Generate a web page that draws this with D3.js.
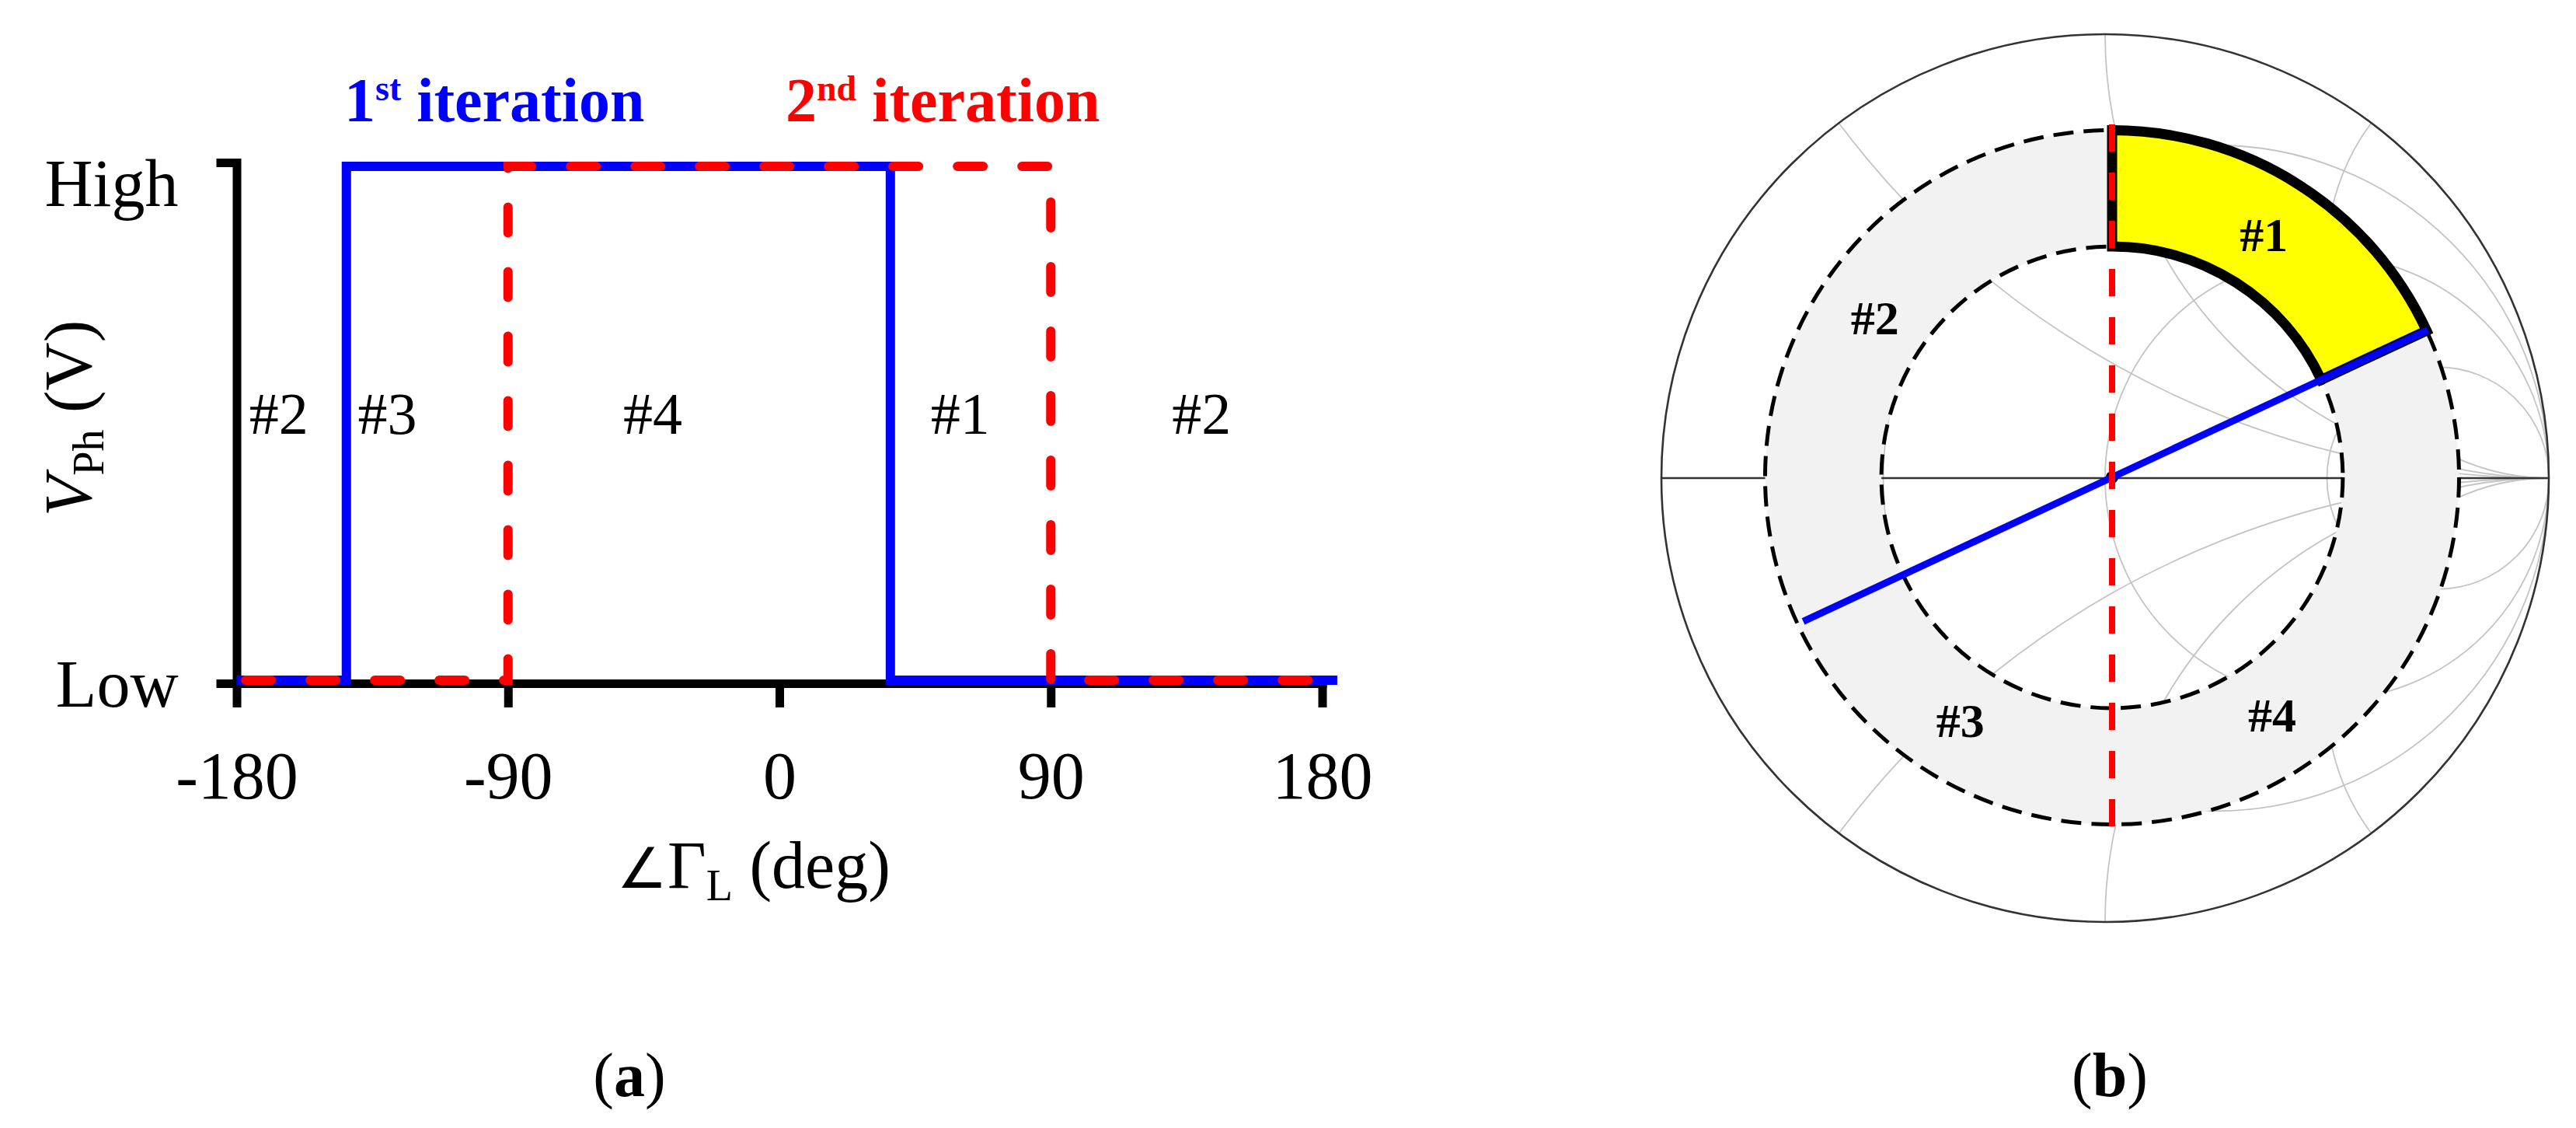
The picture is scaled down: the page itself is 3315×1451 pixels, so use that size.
<!DOCTYPE html>
<html>
<head>
<meta charset="utf-8">
<script src="https://d3js.org/d3.v7.min.js"></script>
<style>
  html, body { margin: 0; padding: 0; background: #fff; }
  svg { display: block; font-family: 'Liberation Serif', 'Times New Roman', serif; }
  text { white-space: pre; }
</style>
</head>
<body>
<div id="vis"></div>
<script>
// ---------------- data ----------------
// panel (a): photodetector level vs. load phase
var phaseTicks = [-180, -90, 0, 90, 180];
var levelTicks = [0, 1];
var levelNames = ['Low', 'High'];

var iter1Phase = [-180, -143.6, -143.6, 36.8, 36.8, 185];
var iter1Level = [0, 0, 1, 1, 0, 0];
var iter2Phase = [-177, -90, -90, 90, 90, 180];
var iter2Level = [0, 0, 1, 1, 0, 0];

var seriesNumber = ['1', '2'];
var seriesSuffix = ['st', 'nd'];

var regionNames = ['#2', '#3', '#4', '#1', '#2'];
var regionPhase = [-166, -130, -42, 60, 140];

// panel (b): Smith chart with the four regions
var smithR = [1 / 3, 1, 3];
var smithX = [0.5, 1, 2, -0.5, -1, -2];
var ringRadii = [0.52, 0.782];
var iter1Boundary = [25, 205];      // deg, blue diameter
var iter2Boundary = [90, 270];      // deg, red diameter
var region1Span = [25, 90];         // deg, yellow sector
var smithRegionNames = ['#1', '#2', '#3', '#4'];
var smithRegionAngle = [58, 146, 238, 304];
var smithLabelRadius = 0.645;

// ---------------- layout ----------------
var width = 3315;
var height = 1451;
var blue = '#0000ff';
var red = '#ff0000';

var svg = d3.select('#vis')
            .append('svg')
            .attr('width', width)
            .attr('height', height);

//////////////////////////////// panel (a) ////////////////////////////////
var ga = svg.append('g');

var xScale = d3.scaleLinear()
                .domain([-180, 180])
                .range([304.5, 1701.5]);
var yScale = d3.scaleLinear()
                .domain([0, 1])
                .range([879, 209]);
// the traces sit slightly inside the axis ticks in the original drawing
var yLine = d3.scaleLinear()
                .domain([0, 1])
                .range([875, 214]);

var xAxis = d3.axisBottom(xScale)
                .tickValues(phaseTicks)
                .tickFormat(function(d) { return String(d); })
                .tickSizeInner(31)
                .tickSizeOuter(0)
                .tickPadding(56);
var yAxis = d3.axisLeft(yScale)
                .tickValues(levelTicks)
                .tickFormat(function(d, i) { return levelNames[i]; })
                .tickSizeInner(26)
                .tickSizeOuter(0)
                .tickPadding(49);

var xAxisG = ga.append('g')
                .attr('class', 'x-axis')
                .attr('transform', 'translate(0,' + yScale(0) + ')')
                .call(xAxis);
var yAxisG = ga.append('g')
                .attr('class', 'y-axis')
                .attr('transform', 'translate(' + xScale(-180) + ',0)')
                .call(yAxis);

[xAxisG, yAxisG].forEach(function(g) {
    g.attr('font-family', null).attr('font-size', 86);
    g.select('.domain').attr('stroke', '#000').attr('stroke-width', 11).attr('stroke-linecap', 'square');
    g.selectAll('.tick line').attr('stroke', '#000').attr('stroke-width', 11);
    g.selectAll('.tick text').attr('fill', '#000');
});
yAxisG.selectAll('.tick text').attr('dy', function(d) { return d === 1 ? '0.64em' : '0.34em'; });

var line = d3.line()
             .x(function(d) { return xScale(d[0]); })
             .y(function(d) { return yLine(d[1]); });

ga.append('path')
    .datum(d3.zip(iter1Phase, iter1Level))
    .attr('d', line)
    .attr('fill', 'none')
    .attr('stroke', blue)
    .attr('stroke-width', 12)
    .attr('stroke-linejoin', 'miter');

ga.append('path')
    .datum(d3.zip(iter2Phase, iter2Level))
    .attr('d', line)
    .attr('fill', 'none')
    .attr('stroke', red)
    .attr('stroke-width', 12)
    .attr('stroke-dasharray', '33,50')
    .attr('stroke-linecap', 'round');

// region labels
ga.selectAll('.region')
    .data(regionNames)
    .enter().append('text')
    .attr('class', 'region')
    .attr('x', function(d, i) { return xScale(regionPhase[i]); })
    .attr('y', yScale(0.5))
    .attr('dy', '0.18em')
    .attr('text-anchor', 'middle')
    .attr('font-size', 76)
    .text(function(d) { return d; });

// iteration titles
var titleX = [443, 1011];
var titleColor = [blue, red];
seriesNumber.forEach(function(n, i) {
    var t = ga.append('text')
                .attr('x', titleX[i])
                .attr('y', 156)
                .attr('font-size', 80)
                .attr('font-weight', 'bold')
                .attr('fill', titleColor[i]);
    t.append('tspan').text(n);
    t.append('tspan').attr('font-size', 46).attr('dy', -27).text(seriesSuffix[i]);
    t.append('tspan').attr('dy', 27).text(' iteration');
});

// axis titles
var yTitle = ga.append('text')
                .attr('transform', 'translate(117,538) rotate(-90)')
                .attr('text-anchor', 'middle')
                .attr('font-size', 86);
yTitle.append('tspan').attr('font-style', 'italic').text('V');
yTitle.append('tspan').attr('font-size', 56).attr('dy', 16).text('Ph');
yTitle.append('tspan').attr('dy', -16).text(' (V)');

var xTitle = ga.append('text')
                .attr('x', 970)
                .attr('y', 1142)
                .attr('text-anchor', 'middle')
                .attr('font-size', 86);
xTitle.append('tspan').attr('font-size', 72).attr('font-family', "'DejaVu Sans'").attr('font-weight', 200).text('\u2220');
xTitle.append('tspan').text('\u0393');
xTitle.append('tspan').attr('font-size', 56).attr('dy', 16).text('L');
xTitle.append('tspan').attr('dy', -16).text(' (deg)');

var capA = ga.append('text').attr('x', 810).attr('y', 1410).attr('text-anchor', 'middle').attr('font-size', 80);
capA.append('tspan').text('(');
capA.append('tspan').attr('font-weight', 'bold').text('a');
capA.append('tspan').text(')');

//////////////////////////////// panel (b) ////////////////////////////////
var gb = svg.append('g');

var cx = 2709, cy = 615, R = 571;
var gx = d3.scaleLinear().domain([-1, 1]).range([cx - R, cx + R]);
var gy = d3.scaleLinear().domain([-1, 1]).range([cy + R, cy - R]);
var rs = d3.scaleLinear().domain([0, 1]).range([0, R]);

// the region overlay is drawn a few pixels right of the chart centre
var ocx = cx + 9, ocy = cy - 1;

svg.append('defs').append('clipPath')
    .attr('id', 'unit')
    .append('circle')
    .attr('cx', gx(0)).attr('cy', gy(0)).attr('r', rs(1));

var grid = gb.append('g').attr('clip-path', 'url(#unit)')
                .attr('fill', 'none')
                .attr('stroke', '#c4c4c4')
                .attr('stroke-width', 1.8);

grid.selectAll('.rcirc')
    .data(smithR)
    .enter().append('circle')
    .attr('cx', function(r) { return gx(r / (1 + r)); })
    .attr('cy', gy(0))
    .attr('r', function(r) { return rs(1 / (1 + r)); });

grid.selectAll('.xcirc')
    .data(smithX)
    .enter().append('circle')
    .attr('cx', gx(1))
    .attr('cy', function(x) { return gy(1 / x); })
    .attr('r', function(x) { return rs(1 / Math.abs(x)); });

gb.append('line')
    .attr('x1', gx(-1)).attr('x2', gx(1))
    .attr('y1', gy(0)).attr('y2', gy(0))
    .attr('stroke', '#333').attr('stroke-width', 2.5);

gb.append('circle')
    .attr('cx', gx(0)).attr('cy', gy(0)).attr('r', rs(1))
    .attr('fill', 'none').attr('stroke', '#333').attr('stroke-width', 2.6);

var toD3 = function(deg) { return (90 - deg) * Math.PI / 180; };
var polar = function(deg, r) {
    var a = deg * Math.PI / 180;
    return [ocx + rs(r) * Math.cos(a), ocy - rs(r) * Math.sin(a)];
};

var overlay = gb.append('g').attr('transform', 'translate(' + ocx + ',' + ocy + ')');

var ring = d3.arc()
             .innerRadius(rs(ringRadii[0]))
             .outerRadius(rs(ringRadii[1]))
             .startAngle(0)
             .endAngle(2 * Math.PI);
overlay.append('path').attr('d', ring()).attr('fill', '#f2f2f2');

var sector = d3.arc()
               .innerRadius(rs(ringRadii[0]))
               .outerRadius(rs(ringRadii[1]))
               .startAngle(toD3(region1Span[1]))
               .endAngle(toD3(region1Span[0]));
overlay.append('path').attr('d', sector()).attr('fill', '#ffff00');

overlay.selectAll('.ringline')
    .data(ringRadii)
    .enter().append('circle')
    .attr('r', function(d) { return rs(d); })
    .attr('fill', 'none')
    .attr('stroke', '#000')
    .attr('stroke-width', 5)
    .attr('stroke-dasharray', '26,13');

// blue boundary (1st iteration)
var b0 = polar(iter1Boundary[1], 0.768), b1 = polar(iter1Boundary[0], 0.785);
gb.append('line')
    .attr('x1', b0[0]).attr('y1', b0[1])
    .attr('x2', b1[0]).attr('y2', b1[1])
    .attr('stroke', blue).attr('stroke-width', 9);

overlay.append('path')
    .attr('d', sector())
    .attr('fill', 'none')
    .attr('stroke', '#000')
    .attr('stroke-width', 13)
    .attr('stroke-linejoin', 'miter');

overlay.append('circle').attr('r', 8).attr('fill', '#000');

// red boundary (2nd iteration)
var r0 = polar(iter2Boundary[0], 0.795), r1 = polar(iter2Boundary[1], 0.79);
gb.append('line')
    .attr('x1', r0[0]).attr('y1', r0[1])
    .attr('x2', r1[0]).attr('y2', r1[1])
    .attr('stroke', red).attr('stroke-width', 8)
    .attr('stroke-dasharray', '35,27');

gb.selectAll('.slabel')
    .data(smithRegionNames)
    .enter().append('text')
    .attr('x', function(d, i) { return polar(smithRegionAngle[i], smithLabelRadius)[0]; })
    .attr('y', function(d, i) { return polar(smithRegionAngle[i], smithLabelRadius)[1]; })
    .attr('dy', '0.35em')
    .attr('text-anchor', 'middle')
    .attr('font-size', 62)
    .attr('font-weight', 'bold')
    .text(function(d) { return d; });

var capB = gb.append('text').attr('x', 2715).attr('y', 1410).attr('text-anchor', 'middle').attr('font-size', 80);
capB.append('tspan').text('(');
capB.append('tspan').attr('font-weight', 'bold').text('b');
capB.append('tspan').text(')');
</script>
</body>
</html>
